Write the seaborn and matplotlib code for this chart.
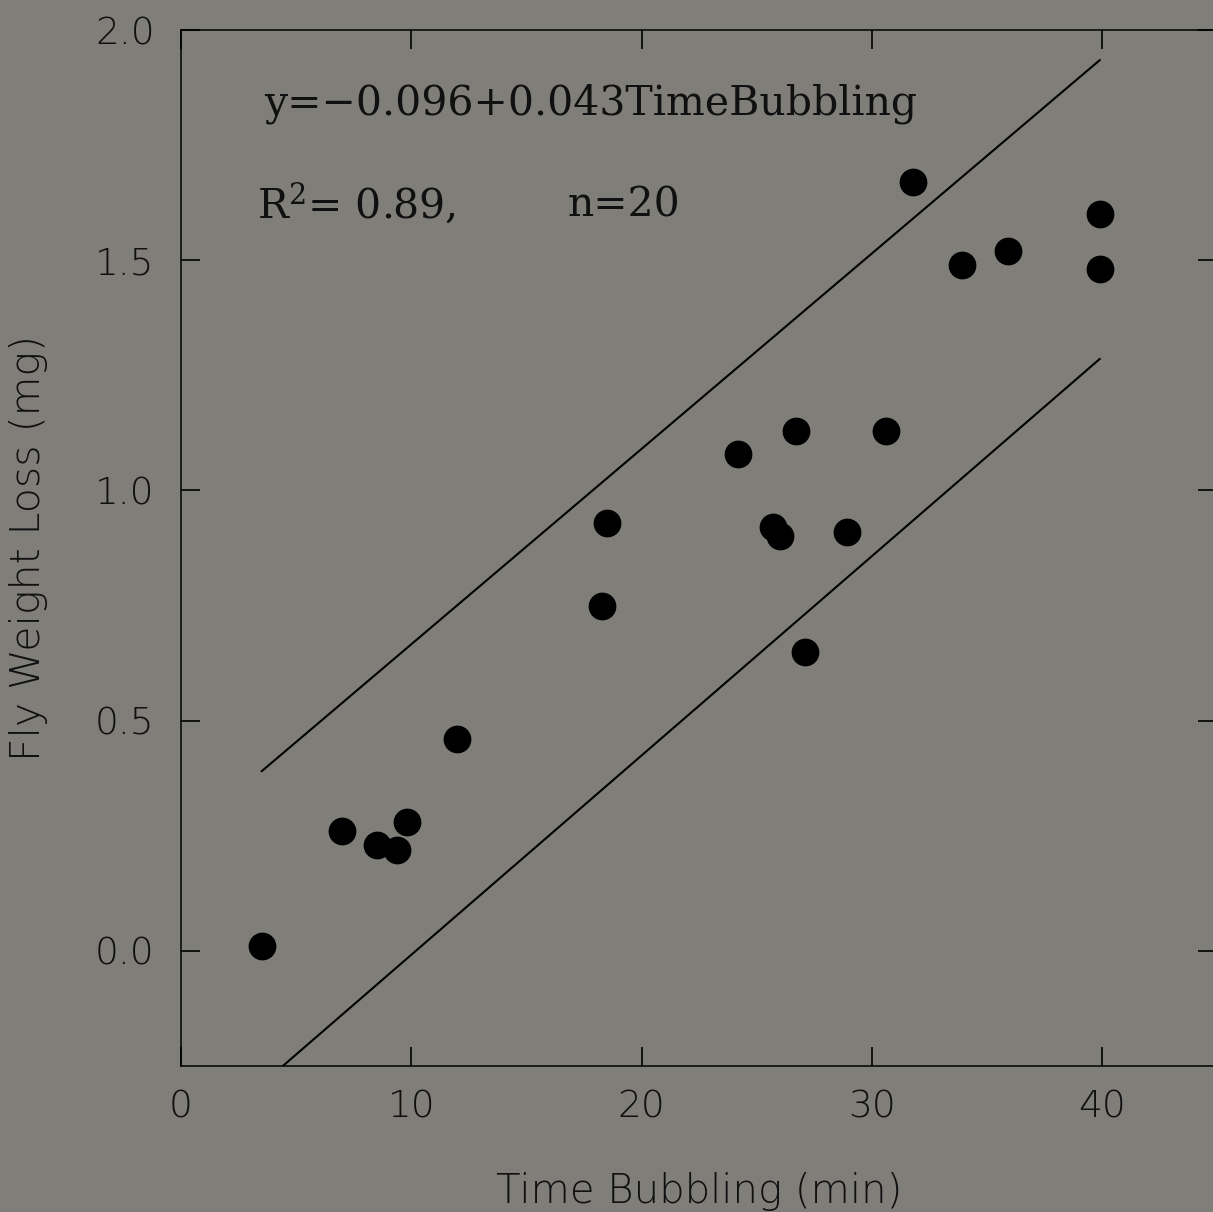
import numpy as np
import pandas as pd
import matplotlib
matplotlib.use('Agg')
import matplotlib.pyplot as plt
import seaborn as sns

# data
time_bubbling = [3.5, 7.0, 8.5, 9.4, 9.8, 12.0, 18.3, 18.5, 24.2, 25.7,
                 26.0, 26.7, 27.1, 28.9, 30.6, 31.8, 33.9, 35.9, 39.9, 39.9]
weight_loss = [0.01, 0.26, 0.23, 0.22, 0.28, 0.46, 0.75, 0.93, 1.08, 0.92,
               0.90, 1.13, 0.65, 0.91, 1.13, 1.67, 1.49, 1.52, 1.60, 1.48]

band_x = [3.5, 39.9]
upper_band = [0.39, 1.935]
lower_band = [-0.29, 1.286]

x_ticks = [0, 10, 20, 30, 40]
y_ticks = [0.0, 0.5, 1.0, 1.5, 2.0]

bg = '#807e79'
ink = '#101010'
sns.set_style('ticks', {'axes.facecolor': bg, 'figure.facecolor': bg,
                        'axes.edgecolor': 'black'})
plt.rcParams['font.family'] = ['DejaVu Sans']
plt.rcParams['font.weight'] = 'light'
plt.rcParams['axes.labelweight'] = 'light'
plt.rcParams['mathtext.fontset'] = 'dejavuserif'

df = pd.DataFrame({'t': time_bubbling, 'w': weight_loss})

fig = plt.figure(figsize=(12.13, 12.12), dpi=100)
ax = fig.add_axes([0.1492, 0.1205, 0.8544, 0.8547])

sns.lineplot(x=band_x, y=upper_band, ax=ax, color='black', lw=1.5)
sns.lineplot(x=band_x, y=lower_band, ax=ax, color='black', lw=1.5)
sns.scatterplot(data=df, x='t', y='w', ax=ax, s=400, color='black',
                edgecolor='black', linewidth=0, zorder=3)

ax.set_xlim(0, 45)
ax.set_ylim(-0.25, 2.0)
ax.set_xticks(x_ticks)
ax.set_yticks(y_ticks)
ax.set_yticklabels([f'{v:.1f}' for v in y_ticks])
ax.tick_params(direction='in', length=14, width=1.2, top=True, right=True,
               labelsize=27, colors='black', labelcolor=ink)
ax.tick_params(axis='y', pad=19)
ax.tick_params(axis='x', pad=17)
for sp in ax.spines.values():
    sp.set_linewidth(1.1)

ax.set_xlabel('Time Bubbling (min)', fontsize=29, fontweight='light',
              labelpad=34, color=ink)
ax.set_ylabel('Fly Weight Loss (mg)', fontsize=29.5, fontweight='light',
              labelpad=34, color=ink)

ax.text(3.6, 1.84, 'y=\u22120.096+0.043TimeBubbling', family='DejaVu Serif',
        fontsize=29.5, va='center', color=ink)
ax.text(3.3, 1.62, 'R$^2$= 0.89,', family='DejaVu Serif',
        fontsize=29.5, va='center', color=ink)
ax.text(16.8, 1.62, 'n=20', family='DejaVu Serif',
        fontsize=29.5, va='center', color=ink)

fig.savefig('out.png', dpi=100, facecolor=bg)
